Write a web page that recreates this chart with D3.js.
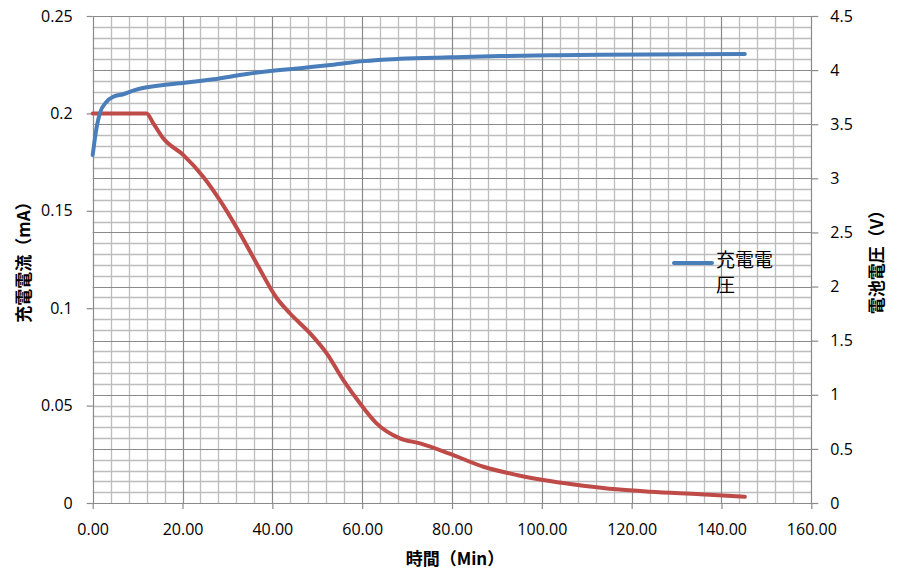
<!DOCTYPE html>
<html><head><meta charset="utf-8">
<script src="https://cdn.jsdelivr.net/npm/d3@7"></script>
<style>body{margin:0;background:#fff}svg{display:block}</style>
</head><body><svg id="c" width="897" height="570"></svg>
<script>
// data
const currentTime = [0,12.0,13.5,15.7,20.2,24.6,28.3,32.8,36.5,41.0,43.9,48.4,52.1,55.8,59.5,63.2,68.4,72.9,79.6,87.0,94.4,101.8,109.2,116.7,124.1,135.3,145.2];
const currentMA  = [0.2,0.2,0.1949,0.1872,0.1786,0.1675,0.1555,0.1384,0.1230,0.1051,0.0974,0.0871,0.0768,0.0631,0.0512,0.0409,0.0332,0.0306,0.0252,0.0186,0.0144,0.0113,0.0089,0.0070,0.0058,0.0045,0.0032];
const voltTime = [0,0.9,1.6,3.1,4.6,6.8,9.0,12.0,15.7,19.4,26.9,34.3,41.7,46.2,49.1,53.5,60.3,68.4,79.6,90.7,101.8,112.9,145.2];
const voltV    = [3.216,3.477,3.601,3.708,3.754,3.777,3.810,3.841,3.862,3.878,3.915,3.964,4.000,4.018,4.030,4.050,4.083,4.104,4.118,4.130,4.137,4.143,4.149];
const xTicks = [0,20,40,60,80,100,120,140,160];
const leftTicks = [0,0.05,0.1,0.15,0.2,0.25];
const rightTicks = [0,0.5,1,1.5,2,2.5,3,3.5,4,4.5];
const legendLabel = ["充電電","圧"];

const svg = d3.select("#c");
const L=92.7,R=811.3,T=16,B=503;
const x = d3.scaleLinear().domain([0,160]).range([L,R]);
const yL = d3.scaleLinear().domain([0,0.25]).range([B,T]);
const yR = d3.scaleLinear().domain([0,4.5]).range([B,T]);
const font = "'Open Sans', 'Liberation Sans', sans-serif";
const cjk = "'Noto Sans CJK JP', sans-serif";

const g = svg.append("g");
// minor grid
const vMinor = d3.range(0,161,4), hMinor = d3.range(0,45.01,1).map(d=>d/10);
g.selectAll(".vm").data(vMinor.filter(d=>d%20!==0)).enter().append("line")
 .attr("x1",d=>Math.round(x(d))+0.5).attr("x2",d=>Math.round(x(d))+0.5).attr("y1",T).attr("y2",B)
 .attr("stroke","#bdbdbd").attr("stroke-width",1.3);
g.selectAll(".hm").data(hMinor.filter(d=>Math.round(d*10)%5!==0)).enter().append("line")
 .attr("y1",d=>Math.round(yR(d))+0.5).attr("y2",d=>Math.round(yR(d))+0.5).attr("x1",L).attr("x2",R)
 .attr("stroke","#bdbdbd").attr("stroke-width",1.3);
// major grid
g.selectAll(".vM").data(xTicks).enter().append("line")
 .attr("x1",d=>Math.round(x(d))+0.5).attr("x2",d=>Math.round(x(d))+0.5).attr("y1",T).attr("y2",B)
 .attr("stroke","#8a8a8a").attr("stroke-width",1.2);
g.selectAll(".hM").data(rightTicks).enter().append("line")
 .attr("y1",d=>Math.round(yR(d))+0.5).attr("y2",d=>Math.round(yR(d))+0.5).attr("x1",L).attr("x2",R)
 .attr("stroke","#8a8a8a").attr("stroke-width",1.2);

// axes
function styleAxis(sel){
  sel.select(".domain").remove();
  sel.selectAll(".tick line").attr("stroke","#8a8a8a").attr("stroke-width",1.2);
  sel.selectAll(".tick text").attr("font-family",font).attr("font-size",16).attr("fill","#000");
}
svg.append("g").attr("transform",`translate(${L},0)`)
 .call(d3.axisLeft(yL).tickValues(leftTicks).tickFormat(d=>String(d)).tickSize(6).tickPadding(14))
 .call(styleAxis);
svg.append("g").attr("transform",`translate(${R},0)`)
 .call(d3.axisRight(yR).tickValues(rightTicks).tickFormat(d=>String(d)).tickSize(7).tickPadding(12))
 .call(styleAxis);
svg.append("g").attr("transform",`translate(0,${B})`)
 .call(d3.axisBottom(x).tickValues(xTicks).tickFormat(d3.format(".2f")).tickSize(6).tickPadding(15))
 .call(styleAxis);

// lines
const cur = currentTime.map((t,i)=>[t,currentMA[i]]);
const vol = voltTime.map((t,i)=>[t,voltV[i]]);
svg.append("path").datum(cur)
 .attr("d",d3.line().x(d=>x(d[0])).y(d=>yL(d[1])).curve(d3.curveMonotoneX))
 .attr("fill","none").attr("stroke","#be4b48").attr("stroke-width",4).attr("stroke-linecap","round");
svg.append("path").datum(vol)
 .attr("d",d3.line().x(d=>x(d[0])).y(d=>yR(d[1])).curve(d3.curveMonotoneX))
 .attr("fill","none").attr("stroke","#4a7ebb").attr("stroke-width",4).attr("stroke-linecap","round");

// legend
svg.append("line").attr("x1",674).attr("x2",712).attr("y1",263).attr("y2",263)
 .attr("stroke","#4a7ebb").attr("stroke-width",4).attr("stroke-linecap","round");
svg.selectAll(".lg").data(legendLabel).enter().append("text")
 .attr("x",716).attr("y",(d,i)=>260+i*25.5).attr("dy","0.36em").text(d=>d)
 .attr("font-family",cjk).attr("font-size",19).attr("fill","#000");

// axis titles
svg.append("text").attr("transform","translate(22,258) rotate(-90)").attr("text-anchor","middle")
 .attr("dominant-baseline","central")
 .attr("font-family",cjk).attr("font-size",17).attr("font-weight","bold")
 .text("充電電流（mA）");
svg.append("text").attr("transform","translate(875,258) rotate(-90)").attr("text-anchor","middle")
 .attr("dominant-baseline","central")
 .attr("font-family",cjk).attr("font-size",17).attr("font-weight","bold")
 .text("電池電圧（V）");
svg.append("text").attr("x",455).attr("y",557).attr("text-anchor","middle")
 .attr("dominant-baseline","central")
 .attr("font-family",cjk).attr("font-size",17).attr("font-weight","bold")
 .text("時間（Min）");
</script></body></html>
